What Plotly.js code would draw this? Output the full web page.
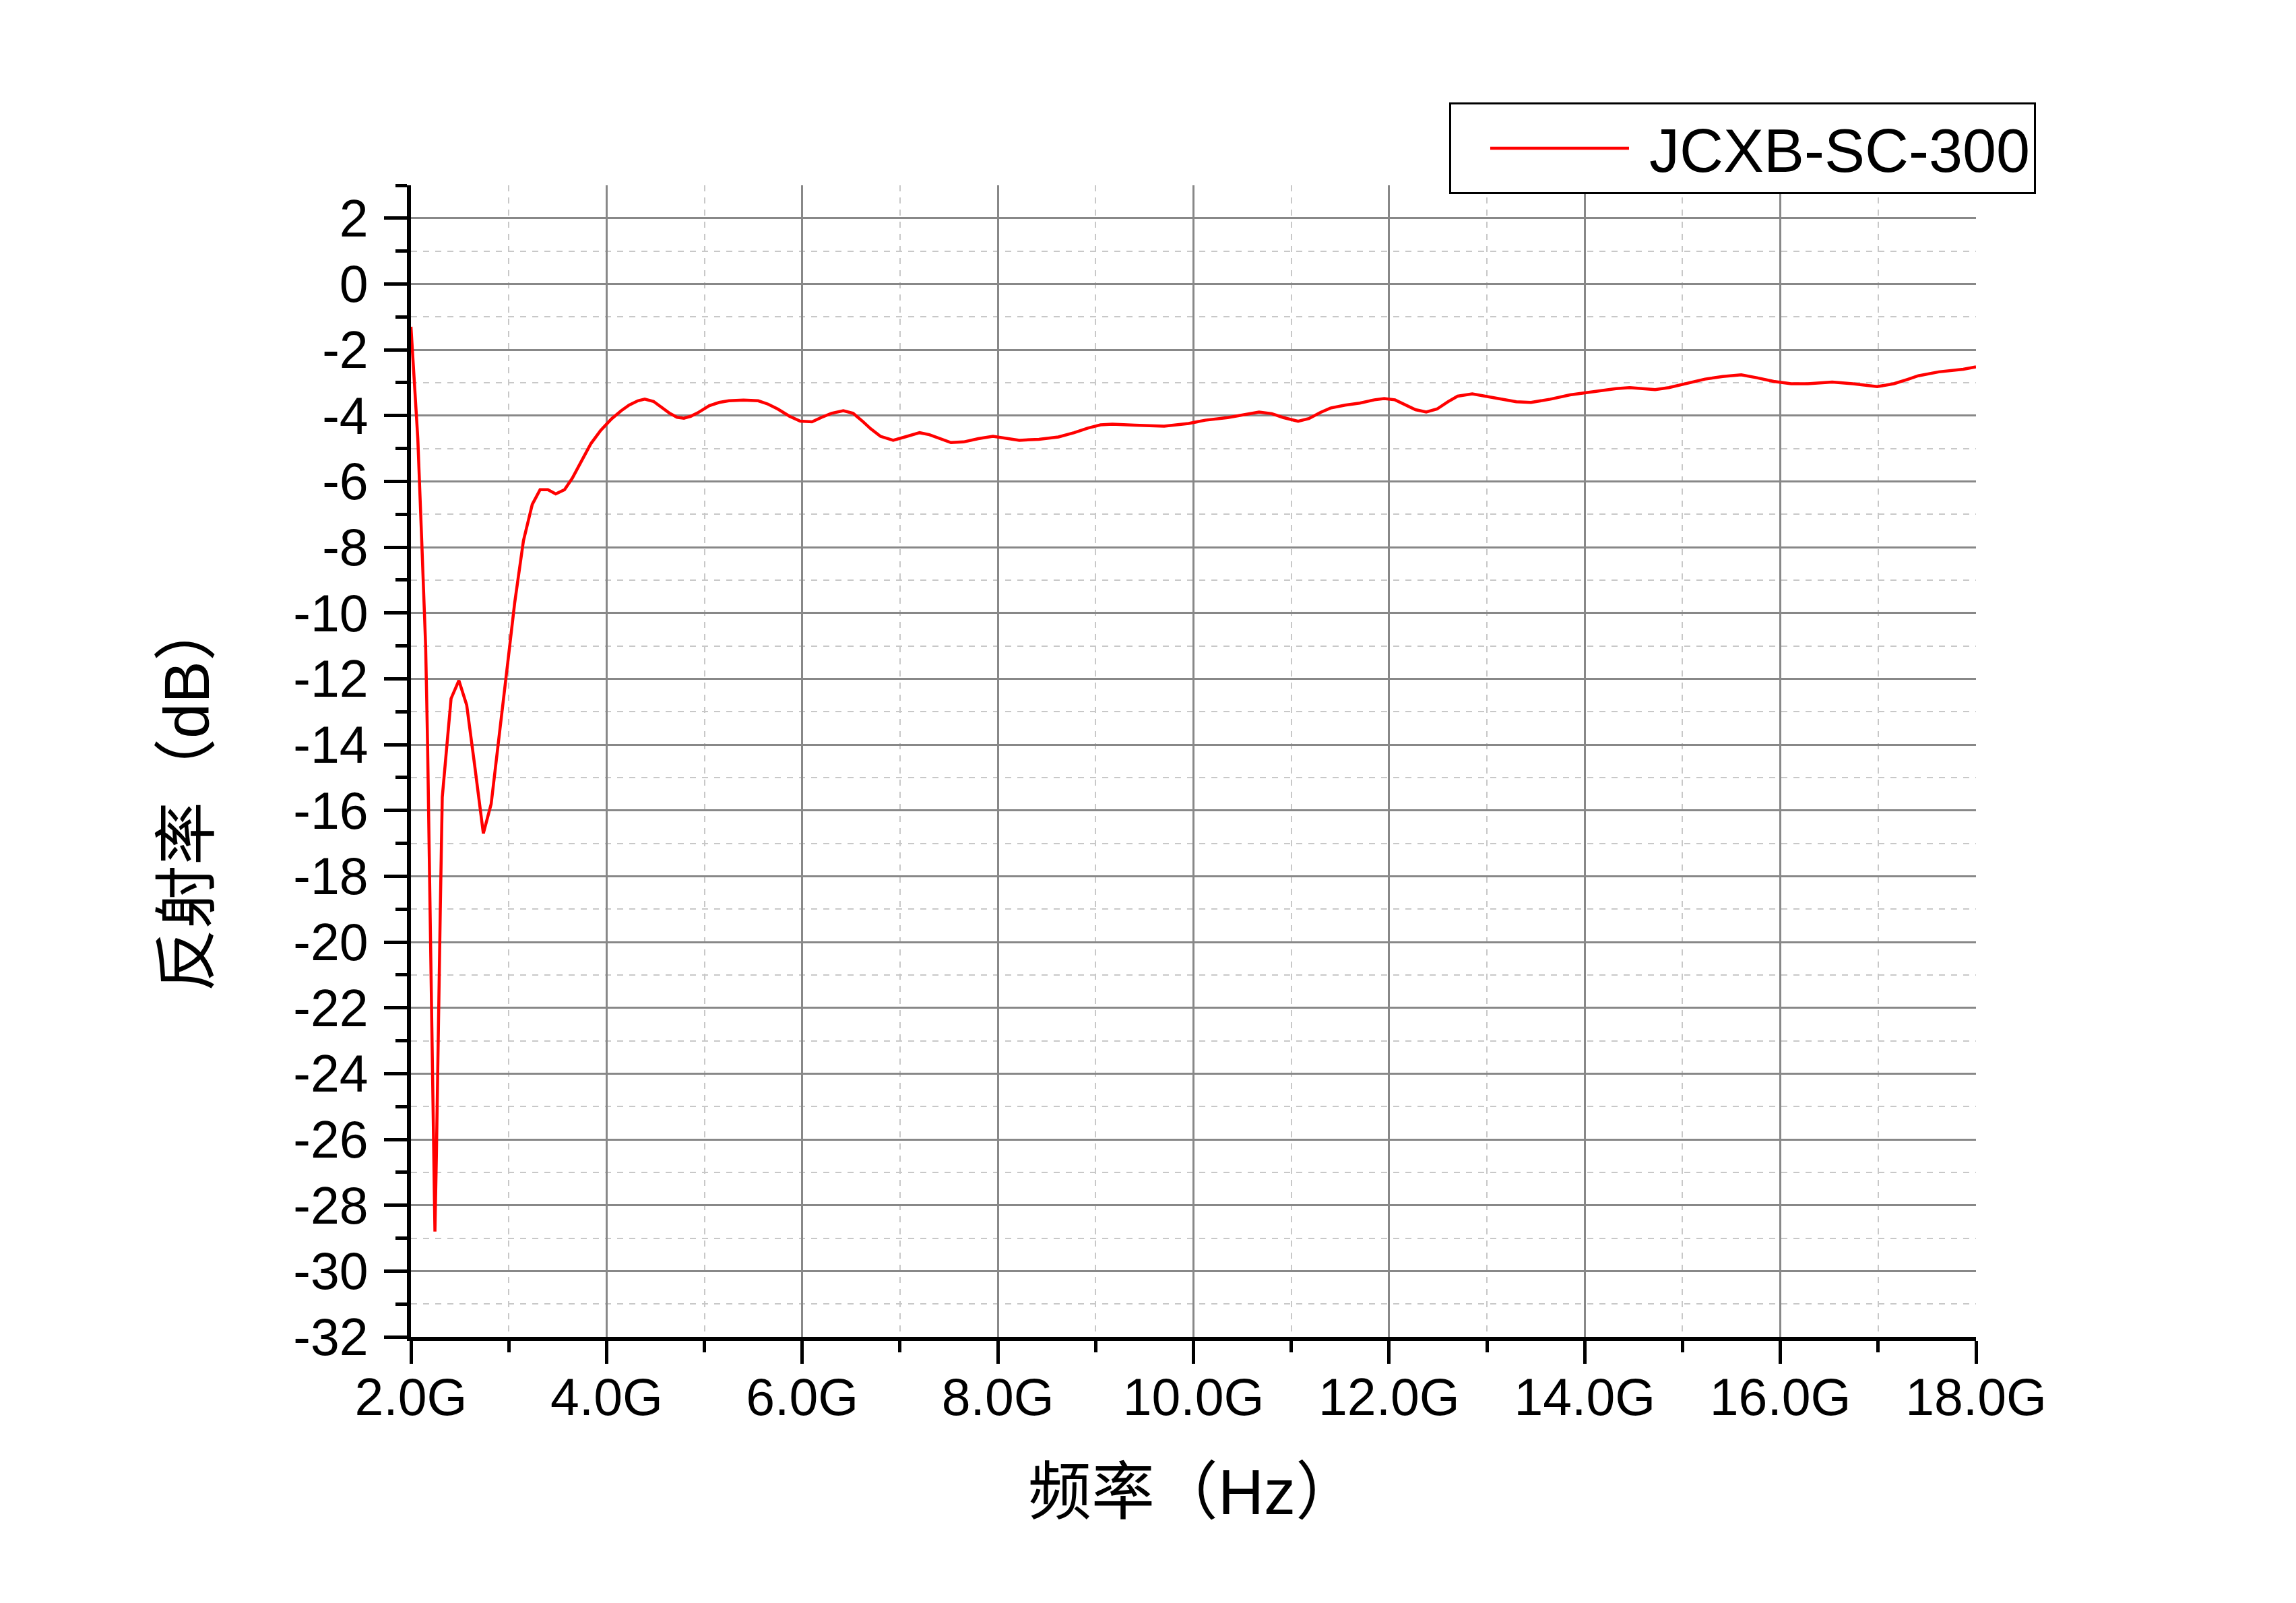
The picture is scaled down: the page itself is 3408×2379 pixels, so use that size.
<!DOCTYPE html>
<html>
<head>
<meta charset="utf-8">
<script src="https://cdn.plot.ly/plotly-3.0.1.min.js"></script>
<style>
  html, body { margin: 0; padding: 0; background: #ffffff; }
  #chart { width: 3408px; height: 2379px; }
</style>
</head>
<body>
<div id="chart"></div>
<script>
// Frequency (GHz)
const freqGHz = [
  2.00, 2.03, 2.07, 2.11, 2.15, 2.17, 2.19, 2.21, 2.23, 2.245,
  2.26, 2.28, 2.30, 2.32, 2.35, 2.41, 2.49, 2.57, 2.65, 2.74,
  2.82, 2.91, 2.99, 3.06, 3.15, 3.24, 3.32, 3.40, 3.48, 3.57,
  3.65, 3.74, 3.84, 3.94, 4.05, 4.15, 4.23, 4.32, 4.39, 4.48,
  4.56, 4.64, 4.72, 4.79, 4.86, 4.93, 5.05, 5.15, 5.25, 5.40,
  5.55, 5.65, 5.75, 5.87, 5.98, 6.10, 6.20, 6.30, 6.42, 6.52,
  6.62, 6.70, 6.80, 6.93, 7.05, 7.20, 7.30, 7.40, 7.52, 7.65,
  7.80, 7.95, 8.05, 8.22, 8.42, 8.62, 8.78, 8.92, 9.05, 9.17,
  9.40, 9.70, 9.95, 10.12, 10.35, 10.52, 10.67, 10.80, 10.92, 11.07,
  11.18, 11.30, 11.40, 11.55, 11.70, 11.85, 11.95, 12.06, 12.17, 12.27,
  12.38, 12.49, 12.60, 12.70, 12.85, 13.00, 13.15, 13.30, 13.45, 13.65,
  13.85, 14.00, 14.18, 14.32, 14.46, 14.60, 14.72, 14.86, 15.05, 15.23,
  15.41, 15.60, 15.76, 15.93, 16.11, 16.28, 16.53, 16.74, 16.99, 17.16,
  17.30, 17.41, 17.62, 17.87, 18.00
];
// Reflectivity (dB)
const reflectDB = [
  -1.3, -2.8, -4.7, -7.8, -11.0, -14.0, -18.0, -22.4, -26.0, -28.8,
  -26.5, -22.0, -19.0, -15.6, -14.6, -12.6, -12.05, -12.8, -14.6, -16.7,
  -15.8, -13.6, -11.5, -9.7, -7.8, -6.7, -6.25, -6.25, -6.38, -6.25,
  -5.9, -5.4, -4.85, -4.45, -4.1, -3.85, -3.68, -3.55, -3.5, -3.57,
  -3.75, -3.92, -4.05, -4.08, -4.02, -3.92, -3.7, -3.6, -3.55, -3.53,
  -3.55, -3.65, -3.8, -4.02, -4.17, -4.19, -4.05, -3.93, -3.85, -3.93,
  -4.18, -4.4, -4.63, -4.75, -4.65, -4.52, -4.58, -4.7, -4.82, -4.8,
  -4.7, -4.63, -4.67, -4.75, -4.72, -4.65, -4.52, -4.38, -4.28, -4.26,
  -4.29, -4.32, -4.24, -4.14, -4.06, -3.97, -3.89, -3.94, -4.06, -4.17,
  -4.09, -3.9, -3.77, -3.68, -3.62, -3.52, -3.48, -3.52, -3.68, -3.82,
  -3.89, -3.8, -3.58, -3.41, -3.34, -3.42, -3.52, -3.58, -3.6, -3.5,
  -3.37, -3.31, -3.24, -3.18, -3.15, -3.19, -3.21, -3.15, -3.02, -2.89,
  -2.81, -2.76, -2.85, -2.96, -3.03, -3.03, -2.98, -3.03, -3.12, -3.03,
  -2.9, -2.79, -2.67, -2.59, -2.52
];
const seriesName = "JCXB-SC-300";

const xTickVals = [2, 4, 6, 8, 10, 12, 14, 16, 18];
const xTickText = ["2.0G", "4.0G", "6.0G", "8.0G", "10.0G", "12.0G", "14.0G", "16.0G", "18.0G"];
const yTickVals = [2, 0, -2, -4, -6, -8, -10, -12, -14, -16, -18, -20, -22, -24, -26, -28, -30, -32];
const yTickText = ["2", "0", "-2", "-4", "-6", "-8", "-10", "-12", "-14", "-16", "-18", "-20", "-22", "-24", "-26", "-28", "-30", "-32"];

const xTitle = "频率（Hz）";
const yTitle = "反射率（dB）";

const latin = "'Liberation Sans', Arial, 'Noto Sans CJK SC', sans-serif";

const trace = {
  x: freqGHz,
  y: reflectDB,
  type: "scatter",
  mode: "lines",
  name: seriesName,
  line: { color: "#ff0000", width: 4.5 }
};

const axisCommon = {
  showline: true,
  linecolor: "#000000",
  linewidth: 6,
  ticks: "outside",
  tickcolor: "#000000",
  tickwidth: 5,
  ticklen: 34,
  showgrid: true,
  gridcolor: "#888888",
  gridwidth: 3,
  zeroline: false,
  tickfont: { family: latin, size: 77, color: "#000000" },
  automargin: false
};

const layout = {
  width: 3408,
  height: 2379,
  paper_bgcolor: "#ffffff",
  plot_bgcolor: "#ffffff",
  margin: { l: 610, r: 475, t: 275, b: 395, pad: 0 },
  showlegend: true,
  legend: {
    x: 1.0383, xanchor: "right",
    y: 1.072, yanchor: "top",
    bgcolor: "#ffffff",
    bordercolor: "#000000",
    borderwidth: 3,
    font: { family: latin, size: 90, color: "#000000" },
    itemwidth: 284
  },
  xaxis: Object.assign({}, axisCommon, {
    range: [2, 18],
    tickmode: "array",
    tickvals: xTickVals,
    ticktext: xTickText,
    ticklabelstandoff: -16,
    minor: {
      dtick: 1, tick0: 1,
      ticks: "outside", ticklen: 17, tickwidth: 5, tickcolor: "#000000",
      showgrid: true, gridcolor: "#c8c8c8", gridwidth: 2, griddash: "dash"
    },
    title: {
      text: xTitle,
      font: { family: latin, size: 94, color: "#000000" },
      standoff: 68
    }
  }),
  yaxis: Object.assign({}, axisCommon, {
    range: [-32, 3],
    tickmode: "array",
    tickvals: yTickVals,
    ticktext: yTickText,
    ticklabelstandoff: 8,
    minor: {
      dtick: 1, tick0: 0,
      ticks: "outside", ticklen: 17, tickwidth: 5, tickcolor: "#000000",
      showgrid: true, gridcolor: "#c8c8c8", gridwidth: 2, griddash: "dash"
    },
    title: {
      text: yTitle,
      font: { family: latin, size: 94, color: "#000000" },
      standoff: 95
    }
  })
};

Plotly.newPlot("chart", [trace], layout, { staticPlot: true, displayModeBar: false }).then(function (gd) {
  // lengthen the legend line sample to match the reference
  const paths = gd.querySelectorAll(".legend .legendlines path");
  paths.forEach(function (p) { p.setAttribute("d", "M58,0h206"); });
  // the reference's y title sits a little below the plot's middle
  const t = gd.querySelector(".ytitle");
  if (t) {
    const tx = parseFloat(t.getAttribute("x"));
    const ty = parseFloat(t.getAttribute("y")) + 50;
    if (isFinite(tx) && isFinite(ty)) {
      t.setAttribute("y", ty);
      t.setAttribute("transform", "rotate(-90," + tx + "," + ty + ")");
    }
  }
});
</script>
</body>
</html>
